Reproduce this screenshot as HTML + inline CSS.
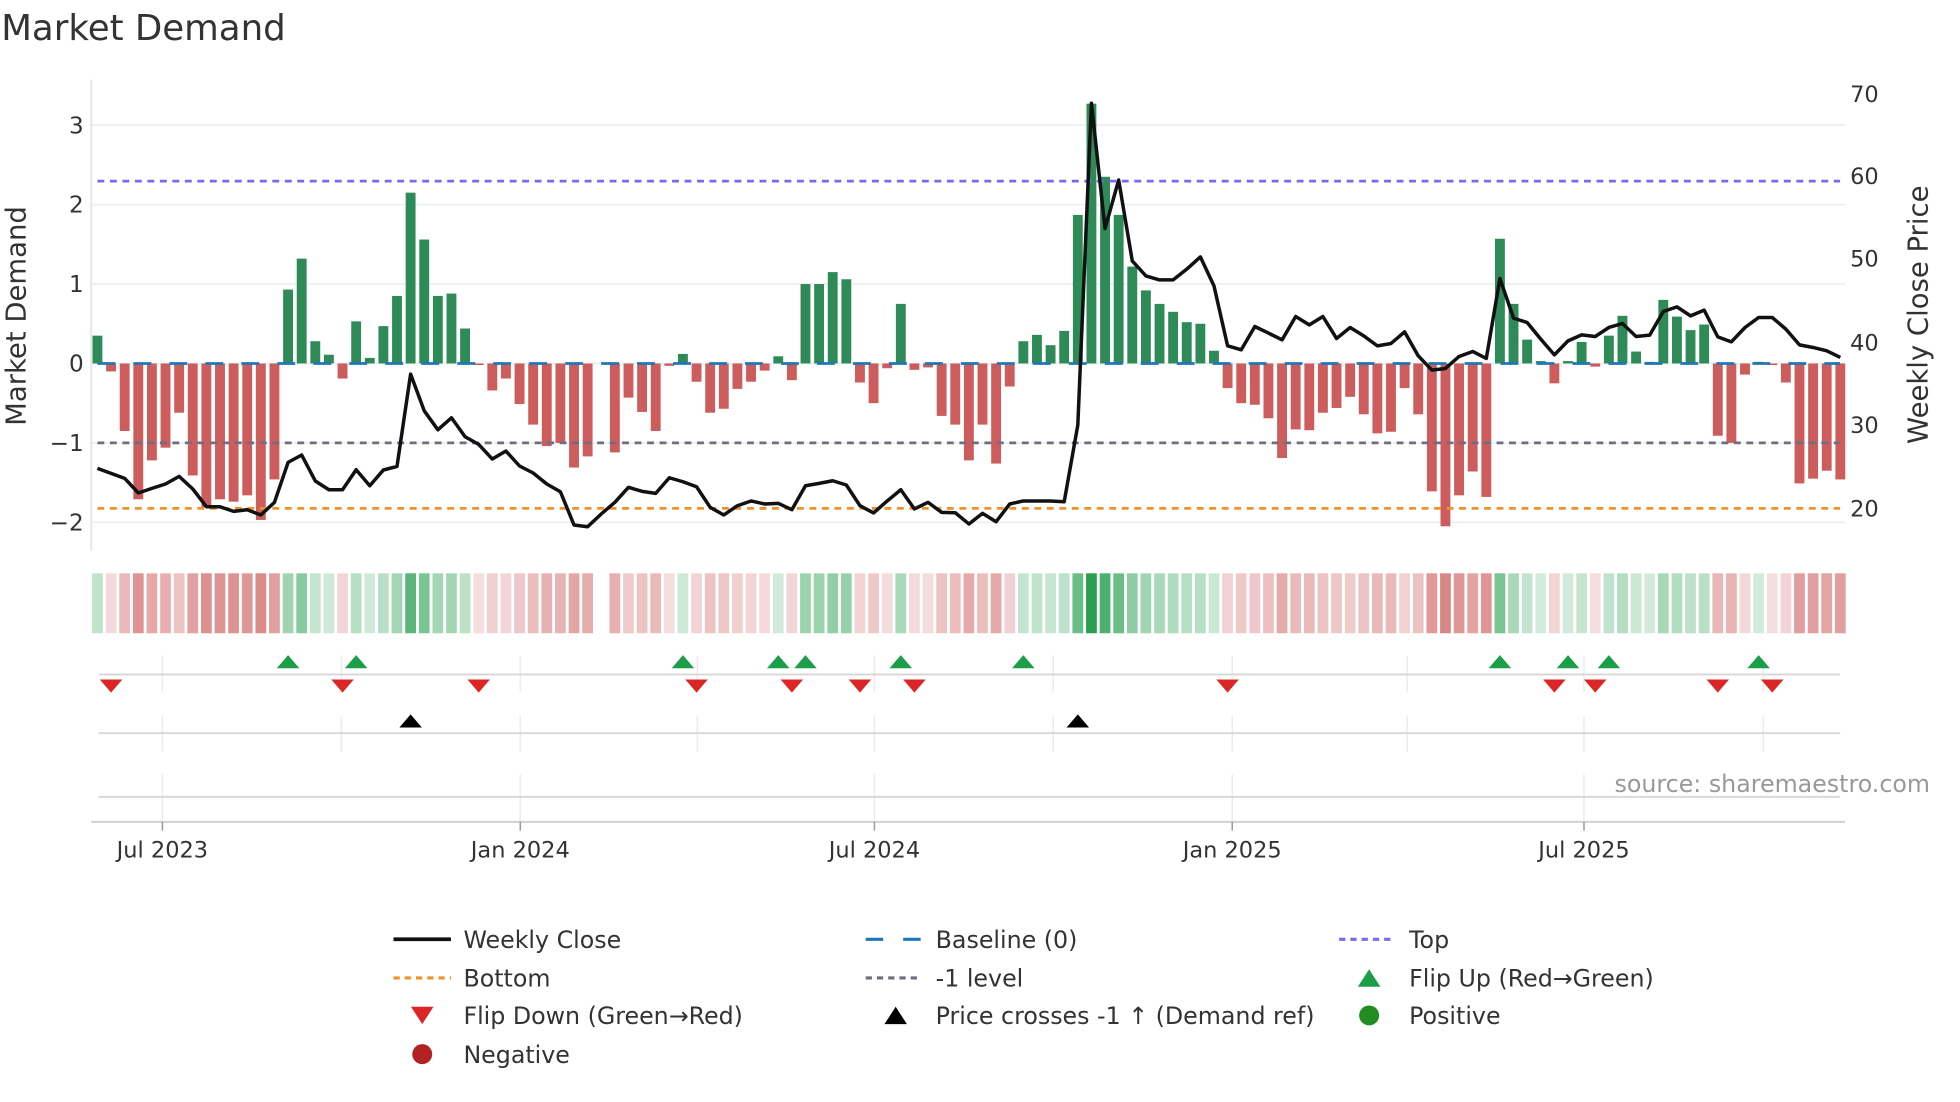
<!DOCTYPE html>
<html><head><meta charset="utf-8"><style>
html,body{margin:0;padding:0;background:#fff;}
svg{display:block;font-family:"DejaVu Sans","Liberation Sans",sans-serif;}
</style></head><body>
<svg id="c" width="1960" height="1102" viewBox="0 0 1569 882.3" preserveAspectRatio="none" xmlns="http://www.w3.org/2000/svg">
<rect x="0" y="0" width="1569" height="882.3" fill="#fff"/>
<text x="1" y="32" font-size="28.5" fill="#333">Market Demand</text>
<g id="grid" stroke="#eceff3" stroke-width="1.4">
<line x1="73" x2="1477" y1="100.2" y2="100.2"/>
<line x1="73" x2="1477" y1="163.8" y2="163.8"/>
<line x1="73" x2="1477" y1="227.4" y2="227.4"/>
<line x1="73" x2="1477" y1="291" y2="291"/>
<line x1="73" x2="1477" y1="354.6" y2="354.6"/>
<line x1="73" x2="1477" y1="418.2" y2="418.2"/>
</g>
<line x1="73" x2="73" y1="64" y2="441" stroke="#e6e6e6" stroke-width="1.5"/>
<g font-size="18.5" fill="#333" text-anchor="end">
<text x="67" y="106.7">3</text>
<text x="67" y="170.3">2</text>
<text x="67" y="233.9">1</text>
<text x="67" y="297.5">0</text>
<text x="67" y="361.1">−1</text>
<text x="67" y="424.7">−2</text>
</g>
<g font-size="18" fill="#333">
<text x="1481" y="81.5">70</text>
<text x="1481" y="147.5">60</text>
<text x="1481" y="213.5">50</text>
<text x="1481" y="280.5">40</text>
<text x="1481" y="346.5">30</text>
<text x="1481" y="413.5">20</text>
</g>
<text transform="translate(20.5,253) rotate(-90)" font-size="22" fill="#333" text-anchor="middle">Market Demand</text>
<text transform="translate(1543,252) rotate(-90)" font-size="22" fill="#333" text-anchor="middle">Weekly Close Price</text>
<g id="bars"></g>
<g id="hlines" fill="none" stroke-width="2.2">
<line x1="78" x2="1473" y1="145" y2="145" stroke="#7b68ee" stroke-dasharray="5.5 4.5"/>
<line x1="78" x2="1473" y1="354.6" y2="354.6" stroke="#6e6e7e" stroke-dasharray="5.5 4.5"/>
<line x1="78" x2="1473" y1="407" y2="407" stroke="#f0922b" stroke-dasharray="5.5 4.5"/>
<line x1="78" x2="1473" y1="291" y2="291" stroke="#1f77b4" stroke-dasharray="14.3 14.5"/>
</g>
<path id="pl" fill="none" stroke="#111" stroke-width="2.8" stroke-linejoin="round"/>
<g id="heat"></g>
<g stroke="#ececec" stroke-width="1.2" id="vg"></g>
<line x1="79" x2="1473" y1="540" y2="540" stroke="#d9d9d9" stroke-width="1.6"/>
<line x1="79" x2="1473" y1="587" y2="587" stroke="#d9d9d9" stroke-width="1.6"/>
<line x1="79" x2="1473" y1="638" y2="638" stroke="#d9d9d9" stroke-width="1.6"/>
<line x1="73" x2="1477" y1="658" y2="658" stroke="#d0d0d0" stroke-width="1.6"/>
<g id="mk"></g>
<g stroke="#999" stroke-width="1.2">
<line x1="130" x2="130" y1="658" y2="665"/>
<line x1="416.5" x2="416.5" y1="658" y2="665"/>
<line x1="700" x2="700" y1="658" y2="665"/>
<line x1="986.4" x2="986.4" y1="658" y2="665"/>
<line x1="1268" x2="1268" y1="658" y2="665"/>
</g>
<g font-size="18" fill="#333" text-anchor="middle">
<text x="130" y="686.5">Jul 2023</text>
<text x="416.5" y="686.5">Jan 2024</text>
<text x="700" y="686.5">Jul 2024</text>
<text x="986.4" y="686.5">Jan 2025</text>
<text x="1268" y="686.5">Jul 2025</text>
</g>
<text x="1545" y="634" font-size="19" fill="#999" text-anchor="end">source: sharemaestro.com</text>
<g font-size="19" fill="#333">
<line x1="315" x2="361" y1="752" y2="752" stroke="#111" stroke-width="3"/>
<text x="371" y="759">Weekly Close</text>
<line x1="693" x2="707" y1="752" y2="752" stroke="#1f77b4" stroke-width="2.5"/>
<line x1="723" x2="737" y1="752" y2="752" stroke="#1f77b4" stroke-width="2.5"/>
<text x="749" y="759">Baseline (0)</text>
<line x1="1072" x2="1117" y1="752" y2="752" stroke="#7b68ee" stroke-width="2.5" stroke-dasharray="5 4"/>
<text x="1128" y="759">Top</text>
<line x1="315" x2="361" y1="783" y2="783" stroke="#f0922b" stroke-width="2.5" stroke-dasharray="5 4"/>
<text x="371" y="790">Bottom</text>
<line x1="693" x2="738" y1="783" y2="783" stroke="#6e6e7e" stroke-width="2.5" stroke-dasharray="5 4"/>
<text x="749" y="790">-1 level</text>
<polygon points="1087,790 1105,790 1096,776" fill="#1a9e48"/>
<text x="1128" y="790">Flip Up (Red→Green)</text>
<polygon points="329,806 347,806 338,820" fill="#dc2626"/>
<text x="371" y="820">Flip Down (Green→Red)</text>
<polygon points="708,820 726,820 717,806" fill="#000"/>
<text x="749" y="820">Price crosses -1 ↑ (Demand ref)</text>
<circle cx="1096" cy="813" r="8" fill="#228b22"/>
<text x="1128" y="820">Positive</text>
<circle cx="338" cy="844" r="8" fill="#b22222"/>
<text x="371" y="851">Negative</text>
</g>
</svg>
<script>
(function(){
var NS="http://www.w3.org/2000/svg";
var v=[0.35,-0.10,-0.85,-1.71,-1.22,-1.06,-0.62,-1.41,-1.81,-1.71,
-1.74,-1.66,-1.97,-1.46,0.93,1.32,0.28,0.11,-0.19,0.53,
0.07,0.47,0.85,2.15,1.56,0.85,0.88,0.44,-0.02,-0.34,
-0.19,-0.51,-0.77,-1.04,-1.00,-1.31,-1.17,null,-1.12,-0.43,
-0.61,-0.85,-0.03,0.12,-0.23,-0.62,-0.57,-0.32,-0.23,-0.09,
0.09,-0.21,1.00,1.00,1.15,1.06,-0.24,-0.50,-0.06,0.75,
-0.08,-0.05,-0.66,-0.77,-1.22,-0.77,-1.26,-0.29,0.28,0.36,
0.23,0.41,1.87,3.27,2.35,1.87,1.22,0.92,0.75,0.65,
0.52,0.50,0.16,-0.31,-0.50,-0.52,-0.69,-1.19,-0.83,-0.84,
-0.62,-0.56,-0.42,-0.64,-0.88,-0.86,-0.31,-0.64,-1.61,-2.05,
-1.66,-1.36,-1.68,1.57,0.75,0.30,0.03,-0.25,0.03,0.27,
-0.04,0.35,0.60,0.15,0.02,0.80,0.59,0.42,0.49,-0.91,
-1.00,-0.14,0.02,-0.02,-0.24,-1.51,-1.45,-1.35,-1.46];
var ly=[375.0,379.0,383.0,394.7,391.0,387.5,381.4,391.5,405.7,405.7,
409.4,408.1,412.3,402.2,370.2,364.3,385.1,392.1,392.1,376.1,
388.9,376.3,373.4,299.5,328.9,344.1,334.5,349.7,355.8,367.5,
361.1,373.1,378.7,387.5,393.7,420.3,421.7,411.5,402.2,390.2,
393.4,395.0,382.5,385.7,389.7,406.2,412.3,404.9,401.1,403.5,
403.0,408.1,388.9,387.0,384.9,388.3,404.9,410.7,401.1,392.1,
407.5,402.2,410.2,410.5,419.5,411.0,417.7,403.5,401.1,401.1,
401.1,401.7,340.3,82.7,183.0,144.1,208.9,220.9,224.1,224.1,
215.5,205.7,228.9,276.9,280.1,261.4,266.7,272.1,253.4,260.1,
253.4,271.0,262.2,268.9,276.9,275.0,265.7,284.9,296.3,295.0,
285.4,281.4,287.0,223.0,254.7,258.2,271.5,284.1,272.9,268.1,
269.4,262.2,259.0,269.4,268.3,249.4,245.7,252.9,248.3,269.7,
273.7,262.2,254.2,254.2,263.5,276.1,278.2,280.9,286.2];
function X(i){return 78+i*10.9;}
function el(n,a,p){var e=document.createElementNS(NS,n);for(var k in a)e.setAttribute(k,a[k]);p.appendChild(e);return e;}
var bars=document.getElementById('bars'),heat=document.getElementById('heat');
for(var i=0;i<v.length;i++){
 var val=v[i]; if(val===null)continue;
 var h=Math.abs(val)*63.6; if(h<0.8)h=0.8;
 el('rect',{x:(X(i)-3.95).toFixed(2),y:(val>=0?291-h:291).toFixed(2),width:7.9,height:h.toFixed(2),fill:val>=0?'#2e8b57':'#cd5c5c'},bars);
 var a=0.2+0.8*Math.min(Math.abs(val)/3,1),c;
 if(val>=0){c=[40,160,80];}else{c=[205,92,92];}
 var col='rgb('+Math.round(255-a*(255-c[0]))+','+Math.round(255-a*(255-c[1]))+','+Math.round(255-a*(255-c[2]))+')';
 el('rect',{x:(X(i)-4.3).toFixed(2),y:459,width:8.6,height:48,fill:col},heat);
}
var d='';
for(var j=0;j<ly.length;j++){d+=(j?'L':'M')+X(j).toFixed(2)+','+ly[j];}
document.getElementById('pl').setAttribute('d',d);
var vg=document.getElementById('vg');
var q=[130,273.3,416.5,558.2,700,843.1,986.4,1126.5,1268,1411.5];
q.forEach(function(x){
 el('line',{x1:x,x2:x,y1:525,y2:554},vg);
 el('line',{x1:x,x2:x,y1:573,y2:602},vg);
});
[130,416.5,700,986.4,1268].forEach(function(x){el('line',{x1:x,x2:x,y1:620,y2:658},vg);});
var mk=document.getElementById('mk');
var ups=[15,20,44,51,53,60,69,104,109,112,123];
var downs=[2,19,29,45,52,57,61,84,108,111,120,124];
var blk=[24,73];
ups.forEach(function(n){var x=X(n-1);el('polygon',{points:(x-9)+',535 '+(x+9)+',535 '+x+',524.5',fill:'#1a9e48'},mk);});
downs.forEach(function(n){var x=X(n-1);el('polygon',{points:(x-9)+',544 '+(x+9)+',544 '+x+',554.5',fill:'#dc2626'},mk);});
blk.forEach(function(n){var x=X(n-1);el('polygon',{points:(x-9)+',582.5 '+(x+9)+',582.5 '+x+',572',fill:'#000'},mk);});
})();
</script>
</body></html>
